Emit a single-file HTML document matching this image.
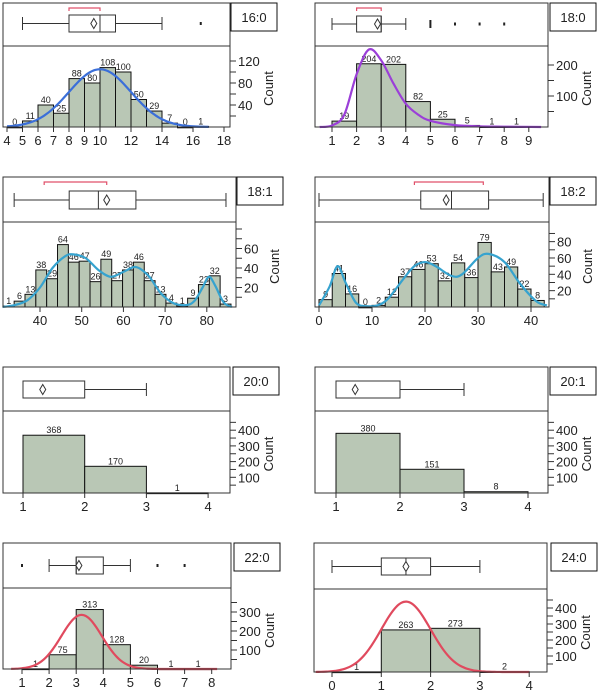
<!DOCTYPE html>
<html><head><meta charset="utf-8"><style>
body{margin:0;background:#fff;}
svg text{font-family:"Liberation Sans",Arial,sans-serif;fill:#222;}
</style></head><body>
<svg id="fig" width="600" height="694" xmlns="http://www.w3.org/2000/svg"></svg>
<script>
// ---- data ----
const p1Labels = ["16:0"];
const p1Counts = [0,11,40,25,88,80,108,100,50,29,7,0,1];
const p1Bin = [4,1];
const p1Box = [5,8,10,11,14]; const p1Mean = [9.6]; const p1Out = [16.5]; const p1Bracket = [8,10];
const p1Normal = [10,2.0,105];
const p1XTicks = [4,5,6,7,8,9,10,12,14,16,18];
const p1YTicks = [40,80,120];

const p2Counts = [19,204,202,82,25,5,1,1];
const p2Bin = [1,1];
const p2Box = [1,2,3,3,4]; const p2Mean = [2.85]; const p2Out = [5,6,7,8]; const p2Bracket = [2,3];
const p2CurveX = [0.5,1,1.5,2,2.5,3,3.5,4,4.5,5,6,7,8,9.5];
const p2CurveY = [0,5,40,170,250,215,140,75,40,20,6,2,1,0];
const p2XTicks = [1,2,3,4,5,6,7,8,9];
const p2YTicks = [100,200];

const p3Counts = [1,6,13,38,29,64,46,47,26,49,27,38,46,27,13,4,1,9,23,32,3];
const p3Bin = [31.2,2.6];
const p3Box = [33.8,47,54,63,84.6]; const p3Mean = [56]; const p3Out = []; const p3Bracket = [41,56];
const p3CurveX = [31,34,37,40,43,46,48,51,54,57,60,63,66,69,72,75,77,79,80.5,82,84,86];
const p3CurveY = [0,2,7,20,40,52,54,50,38,31,36,41,32,14,4,2,6,20,31,22,5,0];
const p3XTicks = [40,50,60,70,80];
const p3YTicks = [20,40,60];

const p4Counts = [9,41,16,0,2,12,37,46,53,32,54,36,79,43,49,22,8];
const p4Bin = [0,2.5];
const p4Box = [0,19.2,25,32,42.3]; const p4Mean = [24]; const p4Out = []; const p4Bracket = [18,31];
const p4CurveX = [0,2,3.5,5,7,9,11,13,16,18,20,22,25,27,30,32,35,38,41,43];
const p4CurveY = [2,25,50,30,5,1,2,10,35,50,55,50,38,40,60,65,55,28,7,2];
const p4XTicks = [0,10,20,30,40];
const p4YTicks = [20,40,60,80];

const p5Counts = [368,170,1];
const p5Bin = [1,1];
const p5Box = [1,1,1,2,3]; const p5Mean = [1.32]; const p5Out = [];
const p5XTicks = [1,2,3,4];
const p5YTicks = [100,200,300,400];

const p6Counts = [380,151,8];
const p6Bin = [1,1];
const p6Box = [1,1,1,2,3]; const p6Mean = [1.3]; const p6Out = [];
const p6XTicks = [1,2,3,4];
const p6YTicks = [100,200,300,400];

const p7Counts = [1,75,313,128,20,1,1];
const p7Bin = [1,1];
const p7Box = [2,3,3,4,5]; const p7Mean = [3.1]; const p7Out = [1,6,7];
const p7Normal = [3.2,0.75,285];
const p7XTicks = [1,2,3,4,5,6,7,8];
const p7YTicks = [100,200,300];

const p8Counts = [1,263,273,2];
const p8Bin = [0,1];
const p8Box = [0,1,1.5,2,3]; const p8Mean = [1.5]; const p8Out = [];
const p8Normal = [1.5,0.5,440];
const p8XTicks = [0,1,2,3,4];
const p8YTicks = [100,200,300,400];

// ---- drawing ----
const NS="http://www.w3.org/2000/svg";
const svg=document.getElementById('fig');
function mk(tag,attrs,parent,text){const e=document.createElementNS(NS,tag);for(const k in attrs)e.setAttribute(k,attrs[k]);if(text!==undefined)e.textContent=text;(parent||svg).appendChild(e);return e;}
function smoothPath(pts){let d="M"+pts[0][0]+","+pts[0][1];for(let i=0;i<pts.length-1;i++){const p0=pts[i-1]||pts[i],p1=pts[i],p2=pts[i+1],p3=pts[i+2]||p2;
 d+=" C"+(p1[0]+(p2[0]-p0[0])/6)+","+(p1[1]+(p2[1]-p0[1])/6)+" "+(p2[0]-(p3[0]-p1[0])/6)+","+(p2[1]-(p3[1]-p1[1])/6)+" "+p2[0]+","+p2[1];}return d;}

function panel(c){
 const g=mk('g',{});
 
 
 const X=v=>c.px0+(v-c.v0)*c.sx;
 const Y=v=>c.axis-v*c.sy;
 c.counts.forEach((n,i)=>{
  const a=X(c.bin[0]+i*c.bin[1]), b=X(c.bin[0]+(i+1)*c.bin[1]);
  const r=mk('rect',{x:a,y:Y(n),width:b-a,height:Math.max(0.8,c.axis-Y(n)),fill:'#b9c7b5',stroke:'#111','stroke-width':1},g);
  
  
  const t=mk('text',{x:(a+b)/2,y:Y(n)-2,'font-size':9,'text-anchor':'middle'},g,String(n));
  
  
 });
 let pts=null;
 if(c.normal){pts=[];const [m,s,pk]=c.normal;for(let v=c.xmin;v<=c.xmax+1e-9;v+=(c.xmax-c.xmin)/80)pts.push([X(v),Y(pk*Math.exp(-0.5*((v-m)/s)**2))]);}
 else if(c.cx){pts=c.cx.map((v,i)=>[X(v),Y(c.cy[i])]);}
 if(pts){const p=mk('path',{d:smoothPath(pts),fill:'none',stroke:c.color,'stroke-width':2.2},g);
  
  }
 const f=mk('rect',{x:c.x0,y:c.top,width:c.x1-c.x0,height:c.axis-c.top,fill:'none',stroke:'#333','stroke-width':1},g);
 
 
 mk('line',{x1:c.x0,x2:c.x1,y1:c.div,y2:c.div,stroke:'#333'},g);
 const by0=c.boxY[0], by1=c.boxY[1], bm=(by0+by1)/2;
 const bx=c.box;
 const bp=mk('g',{},g);
 
 
 if(bx[0]<bx[1]){mk('line',{x1:X(bx[0]),x2:X(bx[1]),y1:bm,y2:bm,stroke:'#333'},bp);mk('line',{x1:X(bx[0]),x2:X(bx[0]),y1:by0+2,y2:by1-2,stroke:'#333'},bp);}
 mk('line',{x1:X(bx[3]),x2:X(bx[4]),y1:bm,y2:bm,stroke:'#333'},bp);
 mk('line',{x1:X(bx[4]),x2:X(bx[4]),y1:by0+2,y2:by1-2,stroke:'#333'},bp);
 mk('rect',{x:X(bx[1]),y:by0,width:X(bx[3])-X(bx[1]),height:by1-by0,fill:'#fff',stroke:'#333'},bp);
 mk('line',{x1:X(bx[2]),x2:X(bx[2]),y1:by0,y2:by1,stroke:'#333'},bp);
 const mx=X(c.mean[0]);
 mk('path',{d:`M${mx},${bm-5} L${mx+3},${bm} L${mx},${bm+5} L${mx-3},${bm} Z`,fill:'#fff',stroke:'#333'},bp);
 c.out.forEach((v,i)=>{const h=(c.bigOut&&i===0)?8:3;const o=mk('rect',{x:X(v)-1,y:bm-h/2,width:2,height:h,fill:'#222'},bp);});
 if(c.bracket){const a=X(c.bracket[0]),b=X(c.bracket[1]),y=c.top+5;
  mk('path',{d:`M${a},${y+3} L${a},${y} L${b},${y} L${b},${y+3}`,fill:'none',stroke:'#e0506a','stroke-width':1.2},bp);}
 const ya=mk('g',{},g);
 
 
 const step=c.yt[1]-c.yt[0]||c.yt[0];
 for(let v=step/2;Y(v)>c.div+6;v+=step/2){
  mk('line',{x1:c.x1,x2:c.x1+6,y1:Y(v),y2:Y(v),stroke:'#333'},ya);
 }
 c.yt.forEach(v=>{mk('text',{x:c.x1+8,y:Y(v)+5,'font-size':13},ya,String(v));});
 const cl=mk('text',{x:0,y:0,'font-size':13,'text-anchor':'middle',transform:`translate(${c.x1+43},${(c.div+c.axis)/2+2}) rotate(-90)`},ya,'Count');
 
 
 const xa=mk('g',{},g);
 
 
 c.xt.forEach(v=>{mk('line',{x1:X(v),x2:X(v),y1:c.axis,y2:c.axis+5,stroke:'#333'},xa);
  mk('text',{x:X(v),y:c.axis+18,'font-size':13,'text-anchor':'middle'},xa,String(v));});
 const lb=mk('g',{},g);
 
 
 mk('rect',{x:c.lx,y:c.top,width:46,height:28,fill:'#fff',stroke:'#111'},lb);
 mk('text',{x:c.lx+23,y:c.top+19,'font-size':13,'text-anchor':'middle'},lb,c.label);
}

panel({label:p1Labels[0],counts:p1Counts,bin:p1Bin,box:p1Box,mean:p1Mean,out:p1Out,bracket:p1Bracket,normal:p1Normal,xmin:4,xmax:17,color:'#3b6fd9',xt:p1XTicks,yt:p1YTicks,
 x0:3,x1:230,top:3,div:46,axis:127,v0:4,px0:7,sx:15.5,sy:0.55,boxY:[15,32],lx:231});
panel({label:"18:0",counts:p2Counts,bin:p2Bin,box:p2Box,mean:p2Mean,out:p2Out,bigOut:true,bracket:p2Bracket,cx:p2CurveX,cy:p2CurveY,color:'#9b3fd8',xt:p2XTicks,yt:p2YTicks,
 x0:315,x1:548,top:3,div:46,axis:127,v0:1,px0:332,sx:24.6,sy:0.31,boxY:[16,32],lx:550});
panel({label:"18:1",counts:p3Counts,bin:p3Bin,box:p3Box,mean:p3Mean,out:p3Out,bracket:p3Bracket,cx:p3CurveX,cy:p3CurveY,color:'#36a3cf',xt:p3XTicks,yt:p3YTicks,
 x0:3,x1:236,top:177,div:222,axis:307,v0:40,px0:40,sx:4.17,sy:0.975,boxY:[191,209],lx:237});
panel({label:"18:2",counts:p4Counts,bin:p4Bin,box:p4Box,mean:p4Mean,out:p4Out,bracket:p4Bracket,cx:p4CurveX,cy:p4CurveY,color:'#36a3cf',xt:p4XTicks,yt:p4YTicks,
 x0:315,x1:549,top:177,div:222,axis:307,v0:0,px0:319,sx:5.3,sy:0.817,boxY:[191,209],lx:550});
panel({label:"20:0",counts:p5Counts,bin:p5Bin,box:p5Box,mean:p5Mean,out:p5Out,xt:p5XTicks,yt:p5YTicks,
 x0:3,x1:230,top:367,div:411,axis:493,v0:1,px0:23,sx:61.7,sy:0.157,boxY:[381,398],lx:233});
panel({label:"20:1",counts:p6Counts,bin:p6Bin,box:p6Box,mean:p6Mean,out:p6Out,xt:p6XTicks,yt:p6YTicks,
 x0:315,x1:548,top:367,div:411,axis:493,v0:1,px0:336,sx:64,sy:0.157,boxY:[381,398],lx:550});
panel({label:"22:0",counts:p7Counts,bin:p7Bin,box:p7Box,mean:p7Mean,out:p7Out,normal:p7Normal,xmin:0.6,xmax:8.2,color:'#e04a5e',xt:p7XTicks,yt:p7YTicks,
 x0:3,x1:231,top:543,div:588,axis:669,v0:1,px0:22,sx:27.1,sy:0.19,boxY:[557,574],lx:234});
panel({label:"24:0",counts:p8Counts,bin:p8Bin,box:p8Box,mean:p8Mean,out:p8Out,normal:p8Normal,xmin:-0.33,xmax:4,color:'#e04a5e',xt:p8XTicks,yt:p8YTicks,
 x0:314,x1:547,top:543,div:589,axis:672,v0:0,px0:332,sx:49.3,sy:0.16,boxY:[558,575],lx:551});
</script>
</body></html>
